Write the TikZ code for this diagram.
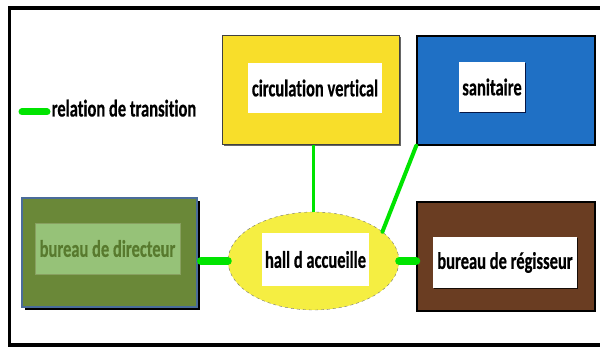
\documentclass[tikz,border=0pt]{standalone}
\usepackage{fontspec}
\setmainfont{Carlito}[Ligatures=NoCommon, FakeBold=0.6]
\usepackage{graphicx}
\usetikzlibrary{shapes.geometric,shadows}
\definecolor{cvyellow}{RGB}{248,222,42}
\definecolor{saniblue}{RGB}{31,112,197}
\definecolor{diroliv}{RGB}{106,136,56}
\definecolor{dirlight}{RGB}{150,194,120}
\definecolor{dirtext}{RGB}{88,122,46}
\definecolor{dirborder}{RGB}{74,108,154}
\definecolor{hallyellow}{RGB}{245,238,66}
\definecolor{regbrown}{RGB}{106,61,34}
\definecolor{linkgreen}{RGB}{0,228,0}
\newcommand{\txt}[1]{\scalebox{1}[1.45]{#1}}
\begin{document}
\begin{tikzpicture}[x=1pt,y=-1pt,
  lbl/.style={font=\fontsize{16.5}{18}\selectfont\bfseries, inner sep=0pt, fill=white, align=center},
  roombox/.style={rectangle, inner sep=0pt, minimum height=109pt},
  link/.style={draw=linkgreen, line cap=round}
]
\useasboundingbox (0,0) rectangle (600,347);
% frame
\draw[line width=3.5pt] (602,8) -- (9.5,8) -- (9.5,345) -- (602,345);
% rooms
\node[roombox, minimum width=177pt, fill=cvyellow, draw=black!75, line width=1pt,
      drop shadow={shadow xshift=1.5pt, shadow yshift=-1.5pt, fill=black!60, opacity=1}] (cvbox) at (310.5,90.5) {};
\node[roombox, minimum width=178pt, fill=saniblue, draw=black, line width=1.5pt] (sanibox) at (506,90.5) {};
\node[roombox, minimum width=175pt, fill=diroliv, draw=dirborder, line width=2pt,
      drop shadow={shadow xshift=3pt, shadow yshift=-3.5pt, fill=black, opacity=1}] (dirbox) at (109.5,252.5) {};
\node[roombox, minimum width=178pt, fill=regbrown, draw=black, line width=1.5pt] (regbox) at (506,256.5) {};
\node[ellipse, minimum width=171pt, minimum height=98pt, inner sep=0pt, fill=hallyellow,
      draw=black!55, dashed, line width=0.4pt] (hall) at (313.5,261) {};
% labels
\node[lbl, minimum width=134pt, minimum height=50pt] (cv) at (315,88) {\txt{circulation vertical}};
\node[lbl, minimum width=66pt, minimum height=50pt,
      drop shadow={shadow xshift=1pt, shadow yshift=-1pt, fill=black!85!blue, opacity=0.8}] (sani) at (492,87) {\txt{sanitaire}};
\node[lbl, minimum width=145pt, minimum height=51pt, fill=dirlight, draw=diroliv!80!white, line width=0.5pt,
      text=dirtext] (dir) at (107.5,248.5) {\txt{bureau de directeur}};
\node[lbl, minimum width=144pt, minimum height=51pt,
      drop shadow={shadow xshift=1pt, shadow yshift=-1pt, fill=black, opacity=0.8}] (reg) at (505,262.5) {\txt{bureau de régisseur}};
\node[lbl, minimum width=107pt, minimum height=53pt] (halltxt) at (315.5,259.5) {\txt{hall d accueille}};
% connectors
\draw[link, line width=3.5pt, line cap=butt] (cvbox.south -| hall.north) -- (hall.north);
\draw[link, line width=4pt] (sanibox.south west) -- (hall.23);
\draw[link, line width=8pt] (hall.west -| dirbox.east) ++(3,0) coordinate (dl) (dl) -- (hall.west);
\draw[link, line width=8pt] (hall.east) -- (hall.east -| regbox.west);
% legend
\coordinate (lg1) at (22,112);
\coordinate (lg2) at (47,112);
\draw[link, line width=7pt] (lg1) -- (lg2);
\node[font=\fontsize{16.5}{18}\selectfont\bfseries, inner sep=0pt, anchor=base west] (legend) at (51.5,116.5) {\txt{relation de transition}};
\end{tikzpicture}
\end{document}
